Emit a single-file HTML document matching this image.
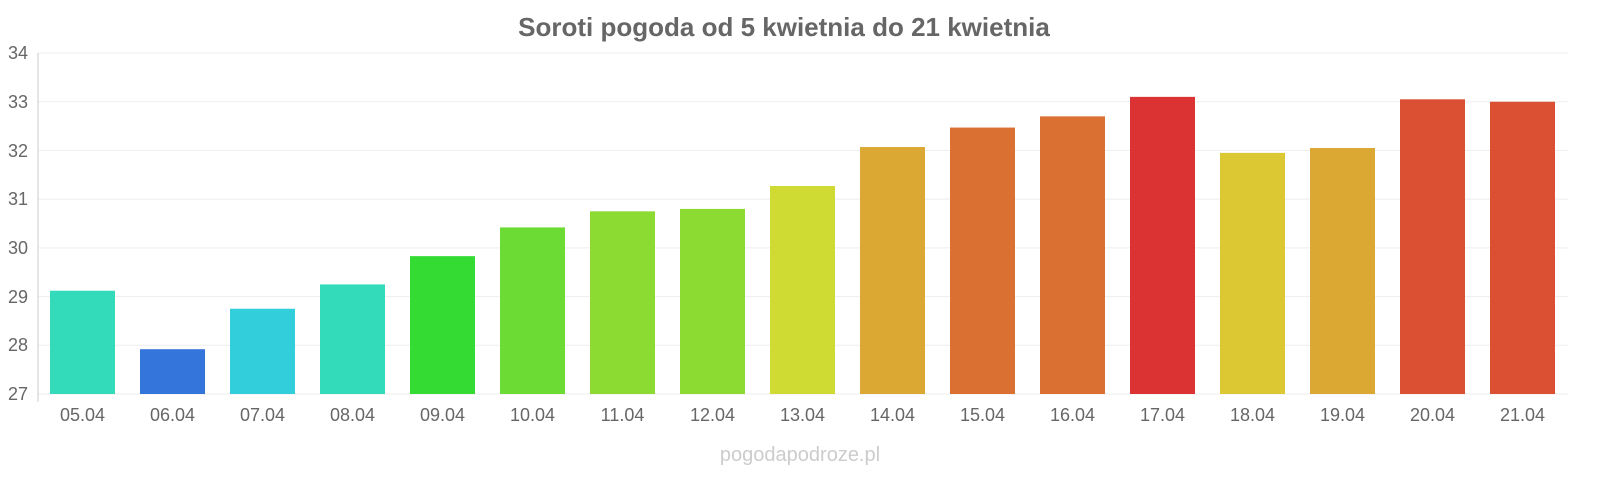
<!DOCTYPE html>
<html><head><meta charset="utf-8"><style>
html,body{margin:0;padding:0;background:#fff;}
svg text{font-family:"Liberation Sans",sans-serif;}
</style></head><body>
<svg width="1600" height="480" viewBox="0 0 1600 480" xmlns="http://www.w3.org/2000/svg">
<text x="784" y="36" text-anchor="middle" font-size="26" font-weight="bold" fill="#666">Soroti pogoda od 5 kwietnia do 21 kwietnia</text>
<g stroke="#eee" stroke-width="1">
<line x1="38" x2="1568" y1="53" y2="53"/><line x1="38" x2="1568" y1="101.7" y2="101.7"/>
<line x1="38" x2="1568" y1="150.4" y2="150.4"/><line x1="38" x2="1568" y1="199.1" y2="199.1"/>
<line x1="38" x2="1568" y1="247.9" y2="247.9"/><line x1="38" x2="1568" y1="296.6" y2="296.6"/>
<line x1="38" x2="1568" y1="345.3" y2="345.3"/><line x1="38" x2="1568" y1="394" y2="394"/>
</g>
<line x1="38" x2="38" y1="53" y2="402" stroke="#ccc"/>
<g font-size="18" fill="#666" text-anchor="end">
<text x="28" y="59">34</text><text x="28" y="108">33</text><text x="28" y="157">32</text><text x="28" y="205">31</text>
<text x="28" y="254">30</text><text x="28" y="303">29</text><text x="28" y="351">28</text><text x="28" y="400">27</text>
</g>
<g id="bars"></g>
<g id="labels" font-size="18" fill="#666" text-anchor="middle"></g>
<text x="800" y="461" text-anchor="middle" font-size="20" fill="#ccc">pogodapodroze.pl</text>
<script>
var v=[29.12,27.92,28.75,29.25,29.83,30.42,30.75,30.8,31.27,32.07,32.47,32.7,33.1,31.95,32.05,33.05,33.0];
var c=["#33dbbb","#3375db","#33cedb","#33dbbb","#33db33","#6cdb33","#8cdb33","#8cdb33","#cfdb33","#dba833","#db7033","#db7033","#db3333","#dbc833","#dba833","#db5033","#db5033"];
var l=["05.04","06.04","07.04","08.04","09.04","10.04","11.04","12.04","13.04","14.04","15.04","16.04","17.04","18.04","19.04","20.04","21.04"];
var ns="http://www.w3.org/2000/svg",b=document.getElementById("bars"),t=document.getElementById("labels");
for(var i=0;i<17;i++){var y=394-(v[i]-27)*48.71;var r=document.createElementNS(ns,"rect");
r.setAttribute("x",50+i*90);r.setAttribute("y",y);r.setAttribute("width",65);r.setAttribute("height",394-y);r.setAttribute("fill",c[i]);b.appendChild(r);
var x=document.createElementNS(ns,"text");x.setAttribute("x",82.5+i*90);x.setAttribute("y",421);x.textContent=l[i];t.appendChild(x);}
</script>
</svg>
</body></html>
